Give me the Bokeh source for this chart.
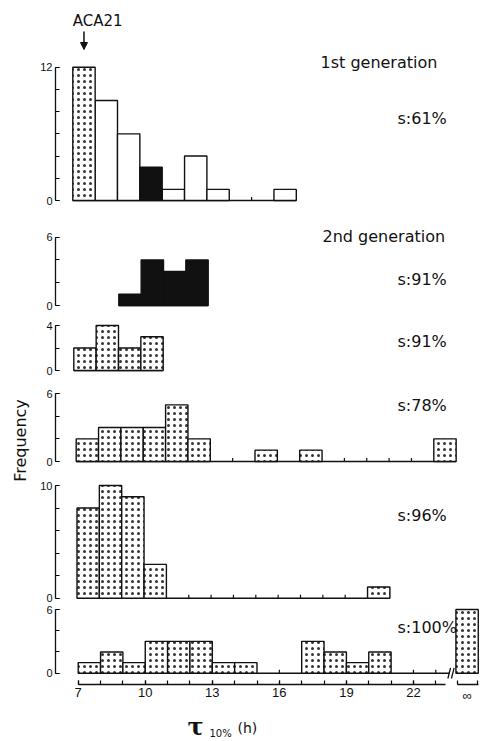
import math
from bokeh.plotting import figure
from bokeh.layouts import row, column
from bokeh.models import Range1d, LinearAxis, FixedTicker, Arrow, NormalHead
from bokeh.core.properties import value
from bokeh.embed import file_html
from bokeh.resources import INLINE

# ---------------- data ----------------
bin_left = list(range(7, 24))          # hourly bins 7..23
inf_center = 24.4                      # position of the "infinity" bin
x_ticks = [7, 10, 13, 16, 19, 22]
inf_text = "\u221e"
marker_text = "ACA21"
y_label = "Frequency"
x_label_main, x_label_sub, x_label_unit = "\u03c4", "10%", "(h)"

gen1_counts = [12, 9, 6, 3, 1, 4, 1, 0, 0, 1, 0, 0, 0, 0, 0, 0, 0]
gen1_kinds = ["dotted", "open", "open", "black", "open", "open", "open", "open", "open",
              "open", "open", "open", "open", "open", "open", "open", "open"]
gen2a_counts = [0, 0, 1, 4, 3, 4, 0, 0, 0, 0, 0, 0, 0, 0, 0, 0, 0]
gen2b_counts = [2, 4, 2, 3, 0, 0, 0, 0, 0, 0, 0, 0, 0, 0, 0, 0, 0]
gen2c_counts = [2, 3, 3, 3, 5, 2, 0, 0, 1, 0, 1, 0, 0, 0, 0, 0, 2]
gen2d_counts = [8, 10, 9, 3, 0, 0, 0, 0, 0, 0, 0, 0, 0, 1, 0, 0, 0]
gen2e_counts = [1, 2, 1, 3, 3, 3, 1, 1, 0, 0, 3, 2, 1, 2, 0, 0, 0]
gen2e_inf = 6

panel_counts = [gen1_counts, gen2a_counts, gen2b_counts, gen2c_counts, gen2d_counts, gen2e_counts]
panel_kinds = [gen1_kinds, ["black"] * 17, ["dotted"] * 17, ["dotted"] * 17, ["dotted"] * 17, ["dotted"] * 17]
panel_inf = [0, 0, 0, 0, 0, gen2e_inf]
panel_titles = ["1st generation", "2nd generation", "", "", "", ""]
panel_s = ["s:61%", "s:91%", "s:91%", "s:78%", "s:96%", "s:100%"]
panel_ymax = [12, 6, 4, 6, 10, 6]

# ---------------- layout (page pixels) ----------------
PAGE_W, PAGE_H = 483, 741
FIG_LEFT, FRAME_LEFT, FIG_RIGHT, PX_PER_H = 33, 55, 483, 22.35
# (top, bottom, baseline y, y of top tick, x of hour 7)
geom = [(0, 218, 200, 66.7, 72.3), (218, 316, 305, 236.7, 73.6), (316, 380, 370, 325, 73.3),
        (380, 470, 461, 393, 75.7), (470, 603, 597.7, 485, 76.5), (603, 741, 672.7, 609, 77.7)]
title_y = [62, 236, None, None, None, None]
s_y = [118, 279, 341, 405, 515, 627]

FONT = "DejaVu Sans"
INK = "#111111"
STYLE = {
    "open": dict(fill_color="white", line_color=INK, line_width=1.4),
    "black": dict(fill_color=INK, line_color=INK, line_width=1.4),
    "dotted": dict(fill_color="white", line_color=INK, line_width=1.4,
                   hatch_pattern="dot", hatch_color="#333333", hatch_scale=6, hatch_weight=0.6),
}


def make_panel(i):
    T, B, y0, yt, x7 = geom[i]
    ymax = panel_ymax[i]
    s = (y0 - yt) / ymax
    xs = 7 - (x7 - FRAME_LEFT) / PX_PER_H
    xe = xs + (FIG_RIGHT - FRAME_LEFT) / PX_PER_H
    p = figure(width=FIG_RIGHT - FIG_LEFT, height=B - T,
               x_range=Range1d(xs, xe), y_range=Range1d((y0 - B) / s, (y0 - T) / s),
               output_backend="svg", toolbar_location=None,
               x_axis_location=None, y_axis_location="left",
               min_border_left=FRAME_LEFT - FIG_LEFT, min_border_right=0,
               min_border_top=0, min_border_bottom=0)
    p.outline_line_color = None
    p.grid.visible = False
    p.background_fill_color = "white"
    p.border_fill_color = "white"
    ax = p.yaxis[0]
    ax.bounds = (0, ymax)
    ax.ticker = FixedTicker(ticks=[0, ymax], minor_ticks=list(range(0, ymax + 1, 2)))
    ax.major_tick_in, ax.major_tick_out = 4, 0
    ax.minor_tick_in, ax.minor_tick_out = 4, 0
    ax.axis_line_color = INK
    ax.axis_line_width = 1.3
    ax.major_tick_line_width = 1.2
    ax.minor_tick_line_width = 1.2
    ax.major_label_standoff = 3
    ax.major_label_text_font = "Liberation Sans"
    ax.major_label_text_font_size = "11px"
    ax.major_label_text_color = INK

    px = lambda X: xs + (X - FRAME_LEFT) / PX_PER_H
    py = lambda Y: (y0 - Y) / s
    return p, px, py, s


figs = []
for i in range(6):
    p, px, py, s = make_panel(i)
    counts, kinds = panel_counts[i], panel_kinds[i]
    nz = [j for j, c in enumerate(counts) if c > 0]
    has_inf = panel_inf[i] > 0
    # baseline
    b_start = bin_left[nz[0]]
    b_end = bin_left[nz[-1]] + 1
    if has_inf:
        b_end = inf_center - 0.78
    p.segment(x0=[b_start], y0=[0], x1=[b_end], y1=[0], line_color=INK, line_width=1.4)
    # small ticks along empty stretches of the baseline
    tk = [bin_left[j] for j in range(1, len(bin_left))
          if counts[j - 1] == 0 and counts[j] == 0 and b_start < bin_left[j] < b_end - 0.5]
    if tk:
        p.segment(x0=tk, y0=[0] * len(tk), x1=tk, y1=[3.5 / s] * len(tk), line_color=INK, line_width=1.2)
    # bars
    for kind in ["open", "black", "dotted"]:
        idx = [j for j in nz if kinds[j] == kind]
        if not idx:
            continue
        p.quad(left=[bin_left[j] for j in idx], right=[bin_left[j] + 1 for j in idx],
               bottom=0, top=[counts[j] for j in idx], **STYLE[kind])
    if has_inf:
        p.quad(left=[inf_center - 0.5], right=[inf_center + 0.5], bottom=0, top=[panel_inf[i]],
               **STYLE["dotted"])
        # axis break marks on the baseline
        bx = [inf_center - 0.8, inf_center - 0.64]
        p.segment(x0=[b - 0.06 for b in bx], y0=[-0.5] * 2, x1=[b + 0.06 for b in bx], y1=[0.5] * 2,
                  line_color=INK, line_width=1.3)
    # texts
    if panel_titles[i]:
        p.text(x=[px(320 if i == 0 else 322)], y=[py(title_y[i])], text=[panel_titles[i]],
               text_font=value(FONT), text_font_size="16px", text_baseline="middle",
               text_align="left", text_color=INK)
    p.text(x=[px(397)], y=[py(s_y[i])], text=[panel_s[i]],
           text_font=value(FONT), text_font_size="16px", text_baseline="middle",
           text_align="left", text_color=INK)
    if i == 0:
        p.text(x=[bin_left[0]], y=[py(20)], text=[marker_text], text_font=value(FONT),
               text_font_size="15px", text_baseline="middle", text_align="left", text_color=INK)
        arrow = Arrow(end=NormalHead(size=7, fill_color=INK, line_color=INK),
                      x_start=bin_left[0] + 0.5, y_start=py(31), x_end=bin_left[0] + 0.5, y_end=py(49),
                      line_color=INK, line_width=1.5)
        p.add_layout(arrow)
    if i == 5:
        y_axis_at = py(684)
        xa = LinearAxis(fixed_location=y_axis_at, bounds=(7, inf_center - 0.95),
                        ticker=FixedTicker(ticks=x_ticks, minor_ticks=bin_left))
        xb = LinearAxis(fixed_location=y_axis_at, bounds=(inf_center - 0.45, inf_center + 0.5),
                        ticker=FixedTicker(ticks=[inf_center], minor_ticks=[inf_center - 0.43, inf_center + 0.48]),
                        major_label_overrides={inf_center: inf_text})
        for a in (xa, xb):
            a.major_tick_in, a.major_tick_out = 4, 0
            a.minor_tick_in, a.minor_tick_out = 4, 0
            a.axis_line_color = INK
            a.axis_line_width = 1.3
            a.major_tick_line_width = 1.2
            a.minor_tick_line_width = 1.2
            a.major_label_standoff = 3
            a.major_label_text_font = "Liberation Sans"
            a.major_label_text_font_size = "13px"
            a.major_label_text_color = INK
            p.add_layout(a, "below")
        xb.major_tick_in = 0
        p.text(x=[px(187)], y=[py(726)], text=[x_label_main], text_font=value("DejaVu Serif"),
               text_font_style="bold", text_font_size="24px", text_baseline="middle",
               text_align="left", text_color=INK)
        p.text(x=[px(209)], y=[py(733)], text=[x_label_sub], text_font=value(FONT),
               text_font_size="10px", text_baseline="middle", text_align="left", text_color=INK)
        p.text(x=[px(237)], y=[py(727)], text=[x_label_unit], text_font=value(FONT),
               text_font_size="14px", text_baseline="middle", text_align="left", text_color=INK)
    figs.append(p)

fq = figure(width=FIG_LEFT, height=PAGE_H, x_range=Range1d(0, FIG_LEFT), y_range=Range1d(PAGE_H, 0),
            output_backend="svg", toolbar_location=None, x_axis_location=None, y_axis_location=None,
            min_border=0, min_border_left=0, min_border_right=0, min_border_top=0, min_border_bottom=0)
fq.outline_line_color = None
fq.grid.visible = False
fq.text(x=[20], y=[440], text=[y_label], angle=math.pi / 2, text_font=value(FONT),
        text_font_size="16px", text_align="center", text_baseline="middle", text_color=INK)

layout = row(fq, column(*figs, spacing=0), spacing=0)
open("out.html", "w").write(file_html(layout, INLINE))
